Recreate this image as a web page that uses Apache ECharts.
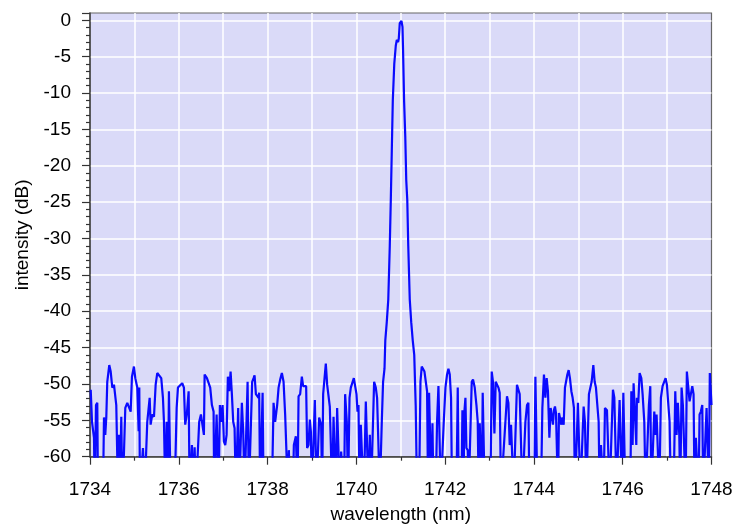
<html>
<head>
<meta charset="UTF-8">
<title>spectrum</title>
<script src="https://cdn.jsdelivr.net/npm/echarts@6/dist/echarts.min.js"></script>
<style>
  html, body { margin: 0; padding: 0; background: #fff; }
  #chart { width: 737px; height: 524px; }
</style>
</head>
<body>
<div id="chart"></div>
<script>
// wavelength (nm)
var wavelength = [
  1734.016, 1734.045, 1734.090, 1734.106, 1734.135, 1734.164, 1734.180, 1734.293, 1734.315, 1734.344,
  1734.367, 1734.389, 1734.434, 1734.466, 1734.502, 1734.540, 1734.592, 1734.630, 1734.653, 1734.675,
  1734.705, 1734.727, 1734.765, 1734.795, 1734.840, 1734.885, 1734.916, 1734.945, 1734.990, 1735.020,
  1735.065, 1735.096, 1735.110, 1735.126, 1735.193, 1735.231, 1735.267, 1735.290, 1735.344, 1735.366,
  1735.402, 1735.441, 1735.479, 1735.515, 1735.560, 1735.605, 1735.643, 1735.666, 1735.695, 1735.727,
  1735.756, 1735.778, 1735.817, 1735.907, 1735.952, 1735.981, 1736.026, 1736.078, 1736.116, 1736.145,
  1736.183, 1736.222, 1736.244, 1736.296, 1736.334, 1736.357, 1736.386, 1736.431, 1736.460, 1736.499,
  1736.544, 1736.566, 1736.582, 1736.634, 1736.672, 1736.708, 1736.746, 1736.784, 1736.798, 1736.836,
  1736.852, 1736.881, 1736.897, 1736.926, 1736.956, 1736.987, 1737.016, 1737.046, 1737.077, 1737.106,
  1737.136, 1737.167, 1737.196, 1737.226, 1737.257, 1737.286, 1737.316, 1737.338, 1737.361, 1737.392,
  1737.421, 1737.451, 1737.482, 1737.518, 1737.550, 1737.579, 1737.624, 1737.653, 1737.685, 1737.707,
  1737.737, 1737.766, 1737.797, 1737.811, 1737.833, 1737.872, 1737.888, 1737.910, 1738.097, 1738.135,
  1738.171, 1738.216, 1738.248, 1738.284, 1738.322, 1738.360, 1738.396, 1738.434, 1738.457, 1738.479,
  1738.509, 1738.570, 1738.592, 1738.621, 1738.637, 1738.675, 1738.698, 1738.734, 1738.772, 1738.801,
  1738.840, 1738.869, 1738.891, 1738.923, 1738.952, 1738.975, 1738.997, 1739.042, 1739.065, 1739.087,
  1739.103, 1739.132, 1739.162, 1739.207, 1739.229, 1739.252, 1739.283, 1739.312, 1739.342, 1739.373,
  1739.402, 1739.432, 1739.454, 1739.486, 1739.515, 1739.537, 1739.567, 1739.598, 1739.628, 1739.657,
  1739.702, 1739.724, 1739.747, 1739.785, 1739.814, 1739.846, 1739.875, 1739.913, 1739.943, 1739.972,
  1740.003, 1740.026, 1740.048, 1740.071, 1740.100, 1740.129, 1740.161, 1740.190, 1740.213, 1740.251,
  1740.273, 1740.303, 1740.332, 1740.377, 1740.400, 1740.438, 1740.467, 1740.499, 1740.528, 1740.573,
  1740.602, 1740.634, 1740.652, 1740.685, 1740.719, 1740.753, 1740.776, 1740.798, 1740.821, 1740.854,
  1740.888, 1740.911, 1740.940, 1740.956, 1740.978, 1741.016, 1741.039, 1741.052, 1741.075, 1741.102,
  1741.124, 1741.147, 1741.169, 1741.203, 1741.236, 1741.270, 1741.304, 1741.337, 1741.366, 1741.413,
  1741.444, 1741.473, 1741.503, 1741.534, 1741.563, 1741.593, 1741.615, 1741.638, 1741.669, 1741.692,
  1741.714, 1741.737, 1741.788, 1741.818, 1741.849, 1741.879, 1741.901, 1741.939, 1741.969, 1742.007,
  1742.043, 1742.074, 1742.104, 1742.133, 1742.155, 1742.254, 1742.284, 1742.306, 1742.367, 1742.389,
  1742.412, 1742.434, 1742.457, 1742.479, 1742.509, 1742.531, 1742.570, 1742.599, 1742.628, 1742.666,
  1742.705, 1742.734, 1742.756, 1742.779, 1742.808, 1742.824, 1742.846, 1742.869, 1742.891, 1743.020,
  1743.049, 1743.078, 1743.110, 1743.139, 1743.168, 1743.200, 1743.229, 1743.258, 1743.290, 1743.393,
  1743.425, 1743.454, 1743.484, 1743.515, 1743.544, 1743.582, 1743.618, 1743.657, 1743.679, 1743.708,
  1743.740, 1743.785, 1743.808, 1743.844, 1743.875, 1743.898, 1744.010, 1744.033, 1744.055, 1744.078,
  1744.159, 1744.190, 1744.226, 1744.258, 1744.287, 1744.316, 1744.348, 1744.377, 1744.406, 1744.429,
  1744.451, 1744.474, 1744.497, 1744.519, 1744.542, 1744.564, 1744.596, 1744.618, 1744.641, 1744.670,
  1744.699, 1744.731, 1744.753, 1744.782, 1744.811, 1744.843, 1744.872, 1744.901, 1744.924, 1744.969,
  1744.992, 1745.023, 1745.046, 1745.091, 1745.120, 1745.149, 1745.181, 1745.210, 1745.239, 1745.271,
  1745.300, 1745.338, 1745.368, 1745.397, 1745.435, 1745.458, 1745.480, 1745.510, 1745.541, 1745.570,
  1745.600, 1745.645, 1745.683, 1745.705, 1745.750, 1745.780, 1745.811, 1745.841, 1745.863, 1745.901,
  1745.930, 1745.960, 1745.982, 1746.014, 1746.036, 1746.059, 1746.171, 1746.194, 1746.223, 1746.245,
  1746.275, 1746.306, 1746.320, 1746.351, 1746.381, 1746.419, 1746.448, 1746.486, 1746.516, 1746.561,
  1746.590, 1746.621, 1746.644, 1746.689, 1746.711, 1746.741, 1746.763, 1746.801, 1746.824, 1746.860,
  1746.898, 1746.937, 1746.966, 1746.995, 1747.027, 1747.056, 1747.085, 1747.146, 1747.184, 1747.213,
  1747.242, 1747.274, 1747.296, 1747.326, 1747.355, 1747.387, 1747.416, 1747.445, 1747.483, 1747.506,
  1747.535, 1747.567, 1747.596, 1747.618, 1747.648, 1747.686, 1747.709, 1747.731, 1747.760, 1747.792,
  1747.814, 1747.859, 1747.889, 1747.911, 1747.939, 1747.962, 1748.000
];

// intensity (dB); points below the -60 floor run off the bottom of the plot
var intensity = [
  -50.8, -55.2, -57.4, -65, -52.9, -52.6, -65, -65, -54.6, -57,
  -54.6, -49.7, -47.4, -48.3, -50.5, -50.1, -52.9, -65, -57, -65,
  -54.5, -65, -59.5, -53.3, -52.6, -52.6, -53.8, -49, -47.6, -49.2,
  -50.5, -56.5, -50.5, -65, -58.8, -65, -65, -55.2, -51.9, -55.6,
  -54.2, -54.5, -50.1, -48.5, -48.3, -49.2, -51.9, -55.2, -65, -55.2,
  -65, -51, -65, -65, -53.3, -50.5, -50.5, -49.9, -50.5, -55.6,
  -54, -51, -65, -58.4, -65, -58.7, -65, -65, -55.2, -54.2,
  -54.2, -57, -48.7, -49.2, -49, -50.5, -52.9, -53.8, -65, -65,
  -54.2, -54.2, -65, -52.9, -55.2, -52.9, -57.9, -58.4, -57, -49,
  -51, -48.3, -51.4, -55.2, -56.1, -65, -65, -53.3, -65, -65,
  -52.6, -56.5, -65, -65, -49.7, -65, -65, -49.7, -49.2, -48.8,
  -51.4, -51.2, -51.9, -51.2, -65, -65, -51.2, -65, -65, -52.6,
  -55.2, -52.9, -50.5, -49.4, -48.5, -49.7, -54.2, -54, -65, -59.1,
  -65, -65, -58.4, -58.2, -57.2, -65, -51.7, -51.4, -49, -50.3,
  -50.3, -50.3, -58.8, -58.4, -54.9, -56.5, -65, -65, -52.2, -52.2,
  -65, -65, -54.6, -55.6, -65, -51.4, -51.2, -47.2, -50.1, -50.3,
  -53.1, -53.3, -65, -54.5, -54.5, -65, -53.3, -53.3, -65, -59.3,
  -59.3, -65, -51.4, -55.2, -65, -51.9, -50.5, -50.3, -49.2, -49.2,
  -51.4, -53.8, -52.9, -65, -55.6, -55.6, -65, -59.3, -52.4, -52.2,
  -65, -57, -65, -65, -49.7, -50.5, -51.9, -51.7, -65, -55.2,
  -49.7, -47.9, -44, -41.5, -38.4, -31, -24.7, -18, -11, -6,
  -3.5, -2.7, -3, -2.5, -0.4, -0.1, -0.9, -4.1, -11, -16,
  -22, -24.7, -31, -38.4, -41.5, -44, -46, -53, -65, -65,
  -49.7, -47.6, -47.6, -48.3, -48.1, -51, -65, -51.2, -51.4, -65,
  -55.4, -65, -65, -55.2, -50.3, -50.3, -65, -65, -55.2, -50.5,
  -48.7, -47.9, -48.7, -51.9, -65, -65, -50.5, -65, -65, -53.6,
  -65, -53.8, -51.9, -58.8, -59.1, -65, -65, -49.7, -49.4, -50.5,
  -52.9, -55.2, -65, -55.4, -55.4, -65, -51.2, -51.2, -65, -65,
  -48.3, -49.7, -56.8, -49.7, -49.9, -50.5, -51.2, -65, -65, -51.7,
  -52.6, -58.4, -55.6, -55.6, -65, -65, -50.1, -50.3, -51.4, -51.4,
  -65, -65, -55.2, -52.9, -52.6, -65, -65, -49, -49, -65,
  -65, -53.3, -48.7, -51.9, -49.2, -51, -57.4, -53.3, -53.1, -55.6,
  -53.6, -53.1, -54, -54.2, -65, -54, -54, -55.6, -54.6, -55.6,
  -50.5, -50.5, -48.7, -48.1, -49.2, -51, -51.9, -53.3, -65, -65,
  -52.6, -52.6, -65, -65, -53.1, -55.2, -65, -65, -51.4, -51.2,
  -49.7, -47.4, -49.7, -50.5, -50.5, -55.2, -65, -58.4, -58.4, -65,
  -53.3, -53.6, -53.8, -65, -65, -50.8, -51.9, -51.9, -65, -57.4,
  -52.2, -52.4, -65, -51.2, -51.2, -65, -65, -51, -58.4, -49.9,
  -49.9, -58.4, -51.9, -52.6, -48.5, -49.2, -51.4, -55.2, -65, -65,
  -52.9, -50.3, -65, -65, -53.8, -57, -54.2, -54.2, -65, -51.9,
  -50.3, -50.1, -49.2, -50.1, -50.3, -55.2, -65, -65, -51, -57,
  -52.6, -57, -65, -50.5, -52.9, -52.9, -65, -48.3, -48.3, -52.4,
  -52.4, -50.3, -51.4, -65, -57.4, -57.4, -65, -54.2, -53.8, -52.9,
  -65, -65, -53.3, -53.3, -65, -48.5, -52.9
];

var spectrum = wavelength.map(function (w, i) { return [w, intensity[i]]; });

var chart = echarts.init(document.getElementById('chart'), null, { renderer: 'canvas' });
var font = 'Liberation Sans';

var option = {
    animation: false,
    textStyle: { fontFamily: font },
    grid: {
        left: 90, right: 25.5, top: 13, bottom: 67.3,
        containLabel: false,
        outerBoundsMode: 'none',
        show: true,
        backgroundColor: '#dadaf8',
        borderColor: '#666',
        borderWidth: 1.2
    },
    xAxis: {
        type: 'value',
        min: 1734, max: 1748, interval: 2,
        name: 'wavelength (nm)',
        nameLocation: 'middle',
        nameGap: 49,
        nameTextStyle: { fontSize: 19, color: '#000', fontFamily: font },
        axisLine: { onZero: false, lineStyle: { color: '#444', width: 1.5 } },
        axisTick: { length: 8, lineStyle: { color: '#333', width: 1.2 } },
        minorTick: { show: true, splitNumber: 2, length: 4, lineStyle: { color: '#333', width: 1.2 } },
        axisLabel: {
            fontSize: 19, color: '#000', margin: 24, fontFamily: font,
            formatter: function (v) { return String(v); }
        },
        splitLine: { show: true, showMinLine: false, showMaxLine: false, lineStyle: { color: '#fff', width: 1.5 } },
        minorSplitLine: { show: true, lineStyle: { color: '#fff', width: 1.5 } }
    },
    yAxis: {
        type: 'value',
        min: -60, max: 1, interval: 5,
        name: 'intensity (dB)',
        nameLocation: 'middle',
        nameGap: 58,
        nameRotate: 90,
        nameTextStyle: { fontSize: 19, color: '#000', fontFamily: font },
        axisLine: { show: true, onZero: false, lineStyle: { color: '#444', width: 1.5 } },
        axisTick: { show: true, length: 8, lineStyle: { color: '#333', width: 1.2 } },
        minorTick: { show: true, splitNumber: 5, length: 4, lineStyle: { color: '#333', width: 1.2 } },
        axisLabel: {
            fontSize: 19, color: '#000', margin: 19, fontFamily: font,
            showMaxLabel: false,
            formatter: function (v) { return v % 5 === 0 ? String(v) : ''; }
        },
        splitLine: { show: true, showMinLine: false, showMaxLine: false, lineStyle: { color: '#fff', width: 1.5 } }
    },
    series: [{
        type: 'line',
        data: spectrum,
        symbol: 'none',
        clip: true,
        lineStyle: { color: '#0a0aff', width: 2.2 },
        z: 3
    }]
};
chart.setOption(option);
</script>
</body>
</html>
